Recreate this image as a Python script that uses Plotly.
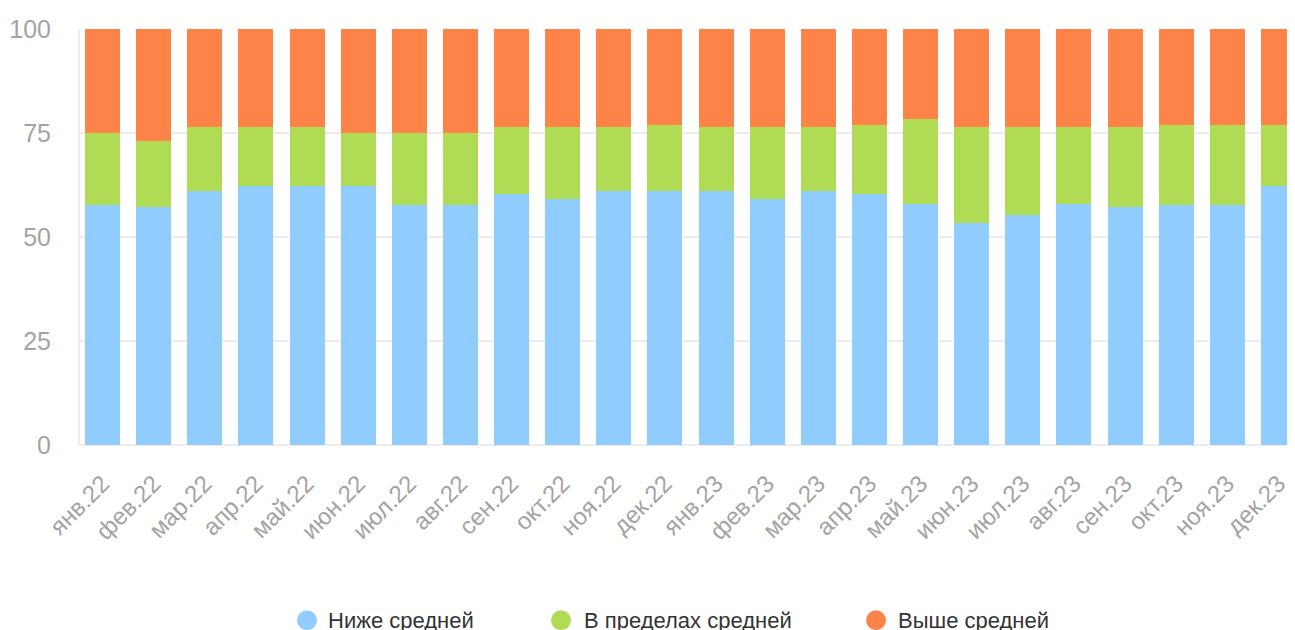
import plotly.graph_objects as go

months = ['янв.22', 'фев.22', 'мар.22', 'апр.22', 'май.22', 'июн.22',
          'июл.22', 'авг.22', 'сен.22', 'окт.22', 'ноя.22', 'дек.22',
          'янв.23', 'фев.23', 'мар.23', 'апр.23', 'май.23', 'июн.23',
          'июл.23', 'авг.23', 'сен.23', 'окт.23', 'ноя.23', 'дек.23']

below = [57.6, 57.1, 61.0, 62.3, 62.3, 62.3, 57.6, 57.6, 60.3, 59.1, 61.0, 61.0,
         61.0, 59.1, 61.0, 60.3, 57.9, 53.3, 55.2, 57.9, 57.1, 57.6, 57.6, 62.3]
within = [17.4, 15.9, 15.4, 14.1, 14.1, 12.7, 17.4, 17.4, 16.1, 17.3, 15.4, 15.9,
          15.4, 17.3, 15.4, 16.6, 20.4, 23.1, 21.2, 18.5, 19.3, 19.3, 19.3, 14.6]
above = [25.0, 27.0, 23.6, 23.6, 23.6, 25.0, 25.0, 25.0, 23.6, 23.6, 23.6, 23.1,
         23.6, 23.6, 23.6, 23.1, 21.7, 23.6, 23.6, 23.6, 23.6, 23.1, 23.1, 23.1]

names = ['Ниже средней', 'В пределах средней', 'Выше средней']
colors = ['#90cdfe', '#b0db55', '#fd8349']
y_ticks = [0, 25, 50, 75, 100]

fig = go.Figure()
for vals, name, col in zip([below, within, above], names, colors):
    fig.add_trace(go.Bar(x=months, y=vals, name=name, marker_color=col,
                         marker_line_width=0, showlegend=False))

# legend drawn by hand: big circles + labels
# (page body has an 8px margin, plot area is 1223 x 416 px)
leg_circle_x = [0.1856, 0.3933, 0.6509]
leg_text_x = [0.2012, 0.4105, 0.6673]
leg_y = -0.4214
for cx, tx, name, col in zip(leg_circle_x, leg_text_x, names, colors):
    fig.add_shape(type='circle', xref='paper', yref='paper',
                  xsizemode='pixel', ysizemode='pixel',
                  xanchor=cx, yanchor=leg_y, x0=-10, x1=10, y0=-10, y1=10,
                  fillcolor=col, line_width=0)
    fig.add_annotation(x=tx, y=leg_y, xref='paper', yref='paper', text=name,
                       showarrow=False, xanchor='left', yanchor='middle',
                       font=dict(size=22, color='#333333'))

fig.update_layout(
    width=1295, height=630,
    margin=dict(l=72, r=0, t=21, b=193),
    barmode='stack', bargap=0.315,
    plot_bgcolor='white', paper_bgcolor='white',
    font=dict(family='Liberation Sans, Arial, sans-serif'),
    xaxis=dict(range=[-0.44, 23.48], tickangle=-45, showgrid=False,
               ticks='outside', ticklen=14, tickcolor='rgba(0,0,0,0)',
               tickfont=dict(size=24, color='#a3a3a3')),
    yaxis=dict(range=[0, 100], tickvals=y_ticks, gridcolor='#ededed', gridwidth=2,
               zeroline=True, zerolinecolor='#ededed', zerolinewidth=2,
               showline=True, linecolor='#ededed', linewidth=2,
               ticklabelstandoff=22, tickfont=dict(size=25, color='#a3a3a3')),
)

fig.write_html('out.html')
